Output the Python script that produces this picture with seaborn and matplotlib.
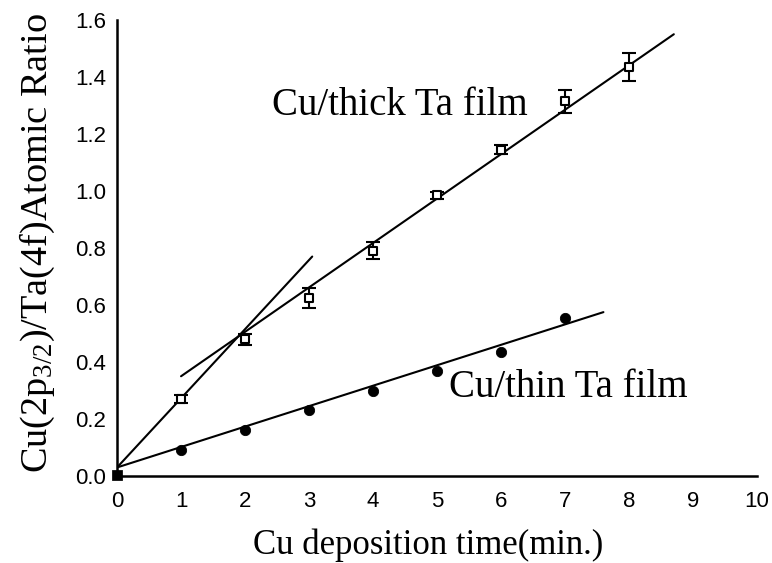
import numpy as np
import pandas as pd
import matplotlib
matplotlib.use("Agg")
import matplotlib.pyplot as plt
import seaborn as sns
from matplotlib.ticker import MultipleLocator, FormatStrFormatter

sns.set_theme(style="white")
plt.rcParams["font.family"] = ["Liberation Sans", "DejaVu Sans"]
plt.rcParams["mathtext.fontset"] = "custom"
plt.rcParams["mathtext.rm"] = "Liberation Serif"
plt.rcParams["mathtext.it"] = "Liberation Serif"

# Measured Cu/Ta atomic ratios vs deposition time
time_thick = [1, 2, 3, 4, 5, 6, 7, 8]
ratio_thick = [0.27, 0.48, 0.625, 0.79, 0.985, 1.145, 1.315, 1.435]
err_thick = [0.015, 0.02, 0.035, 0.03, 0.012, 0.015, 0.04, 0.05]

time_thin = [1, 2, 3, 4, 5, 6, 7]
ratio_thin = [0.09, 0.16, 0.23, 0.30, 0.37, 0.435, 0.555]

origin_t = [0]
origin_r = [0.005]

# Linear fit segments (start/end times and values)
fit_thick_t = [1.0, 8.7]
fit_thick_r = [0.35, 1.55]
fit_initial_t = [0.0, 3.05]
fit_initial_r = [0.03, 0.77]
fit_thin_t = [0.0, 7.6]
fit_thin_r = [0.03, 0.575]

fig = plt.figure(figsize=(7.72, 5.63), dpi=100)
ax = fig.add_axes([0.1516, 0.1545, 0.829, 0.81])

for ft, fr in [(fit_thick_t, fit_thick_r), (fit_initial_t, fit_initial_r), (fit_thin_t, fit_thin_r)]:
    sns.lineplot(x=ft, y=fr, ax=ax, color="black", linewidth=1.5, estimator=None)

ax.errorbar(time_thick, ratio_thick, yerr=err_thick, fmt="none", ecolor="black",
            elinewidth=1.5, capsize=5, capthick=1.5, zorder=3)
sns.scatterplot(x=time_thick, y=ratio_thick, ax=ax, marker="s", s=30,
                facecolor="white", edgecolor="black", linewidth=1.5, zorder=4)
sns.scatterplot(x=time_thin, y=ratio_thin, ax=ax, marker="o", s=55,
                color="black", edgecolor="black", zorder=4)
sns.scatterplot(x=origin_t, y=origin_r, ax=ax, marker="s", s=45,
                color="black", edgecolor="black", zorder=5, clip_on=False)

ax.set_xlim(0, 10)
ax.set_ylim(0, 1.6)
ax.xaxis.set_major_locator(MultipleLocator(1))
ax.xaxis.set_minor_locator(MultipleLocator(0.5))
ax.yaxis.set_major_locator(MultipleLocator(0.2))
ax.yaxis.set_minor_locator(MultipleLocator(0.1))
ax.yaxis.set_major_formatter(FormatStrFormatter("%.1f"))

for side in ["top", "right"]:
    ax.spines[side].set_visible(False)
for side in ["left", "bottom"]:
    ax.spines[side].set_color("black")
    ax.spines[side].set_linewidth(1.8)

ax.tick_params(axis="x", which="major", direction="out", length=7, width=1.5,
               labelsize=16, colors="black", pad=4)
ax.tick_params(axis="x", which="minor", direction="out", length=4, width=1.5, colors="black")
ax.tick_params(axis="y", which="major", direction="in", length=7, width=1.5,
               labelsize=16, colors="black", pad=8)
ax.tick_params(axis="y", which="minor", direction="in", length=4, width=1.5, colors="black")
ax.grid(False)

serif = ["Liberation Serif", "DejaVu Serif"]
ax.set_xlabel("Cu deposition time(min.)", fontsize=25, family=serif, color="black")
ax.xaxis.label.set_va("baseline")
ax.xaxis.set_label_coords(0.486, -0.17)
ax.set_ylabel(r"Cu(2p$_{3/2}$)/Ta(4f)Atomic Ratio", fontsize=27.5, family=serif,
              color="black")
ax.yaxis.label.set_va("baseline")
ax.yaxis.set_label_coords(-0.109, 0.511)

ax.text(4.42, 1.30, "Cu/thick Ta film", fontsize=28, family=serif, color="black",
        ha="center", va="center")
ax.text(7.05, 0.31, "Cu/thin Ta film", fontsize=28, family=serif, color="black",
        ha="center", va="center")

fig.savefig("out.png", dpi=100)
